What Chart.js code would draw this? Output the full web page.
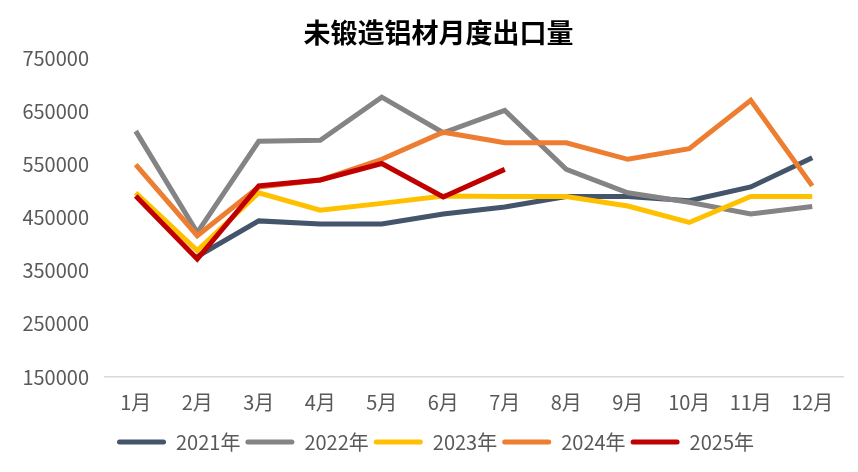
<!DOCTYPE html>
<html>
<head>
<meta charset="utf-8">
<script src="https://cdn.jsdelivr.net/npm/chart.js@4.4.1/dist/chart.umd.min.js"></script>
<style>
	html, body { margin: 0; padding: 0; background: #fff; }
	#box { width: 858px; height: 472px; }
</style>
</head>
<body>
<div id="box"><canvas id="grafico"></canvas></div>
<script>
	// meses y valores
	let meses = ['1月','2月','3月','4月','5月','6月','7月','8月','9月','10月','11月','12月'];
	let y2021 = [null, 377000, 444000, 438000, 438000, 457000, 470000, 490000, 490000, 482000, 508000, 563000];
	let y2022 = [613000, 422000, 594000, 596000, 677000, 610000, 652000, 541000, 497000, 479000, 457000, 471000];
	let y2023 = [497000, 388000, 497000, 464000, 477000, 491000, 490000, 490000, 472000, 441000, 490000, 490000];
	let y2024 = [550000, 416000, 508000, 521000, 560000, 611000, 591000, 591000, 560000, 580000, 671000, 510000];
	let y2025 = [491000, 372000, 510000, 521000, 552000, 489000, 541000];
	let yTicks = [150000, 250000, 350000, 450000, 550000, 650000, 750000];

	let fuente = '"Noto Sans CJK SC", "Noto Sans", sans-serif';
	let gris = '#595959';

	// orden: el ultimo año se dibuja encima
	function serie(label, data, color, orden){
		return {
			label: label,
			data: data,
			borderColor: color,
			backgroundColor: color,
			borderWidth: 5,
			pointRadius: 0,
			pointHoverRadius: 0,
			tension: 0,
			fill: false,
			order: orden
		};
	}

	// mueve titulo y leyenda un poco a la derecha, como en el original
	let correrTitulo = {
		id: 'correrTitulo',
		afterLayout(chart){
			chart.titleBlock.left += 34;
			chart.legend.left += 28;
		}
	};

	let ctx = document.getElementById('grafico').getContext('2d');

	new Chart(ctx, {
		type: 'line',
		data: {
			labels: meses,
			datasets: [
				serie('2021年', y2021, '#44546A', 4),
				serie('2022年', y2022, '#848484', 3),
				serie('2023年', y2023, '#FFC000', 2),
				serie('2024年', y2024, '#ED7D31', 1),
				serie('2025年', y2025, '#C00000', 0)
			]
		},
		plugins: [correrTitulo],
		options: {
			responsive: true,
			maintainAspectRatio: false,
			animation: false,
			layout: {
				padding: { left: 0, right: 15, top: 0, bottom: 10 }
			},
			plugins: {
				title: {
					display: true,
					text: '未锻造铝材月度出口量',
					color: '#000',
					font: { family: fuente, size: 27, weight: 'bold' },
					padding: { top: 17, bottom: 9 }
				},
				legend: {
					display: true,
					position: 'bottom',
					labels: {
						color: gris,
						font: { family: fuente, size: 20 },
						boxWidth: 49,
						boxHeight: 5,
						padding: 5,
						generateLabels(chart){
							return chart.data.datasets.map((ds, i) => ({
								text: ds.label,
								fillStyle: ds.borderColor,
								strokeStyle: ds.borderColor,
								lineWidth: 0,
								fontColor: gris,
								datasetIndex: i,
								borderRadius: 2.5
							}));
						}
					}
				},
				tooltip: { enabled: false }
			},
			scales: {
				x: {
					offset: true,
					grid: { display: false, drawTicks: false },
					border: { display: true, color: '#D9D9D9', width: 1.5 },
					ticks: {
						color: gris,
						font: { family: fuente, size: 20 },
						padding: 13,
						maxRotation: 0,
						autoSkip: false
					}
				},
				y: {
					min: 150000,
					max: 750000,
					afterFit(scale){ scale.width = 105; },
					afterBuildTicks(scale){ scale.ticks = yTicks.map(v => ({ value: v })); },
					grid: { display: false, drawTicks: false },
					border: { display: false },
					ticks: {
						color: gris,
						font: { family: fuente, size: 20 },
						padding: 16,
						callback: v => String(v)
					}
				}
			}
		}
	});
</script>
</body>
</html>
